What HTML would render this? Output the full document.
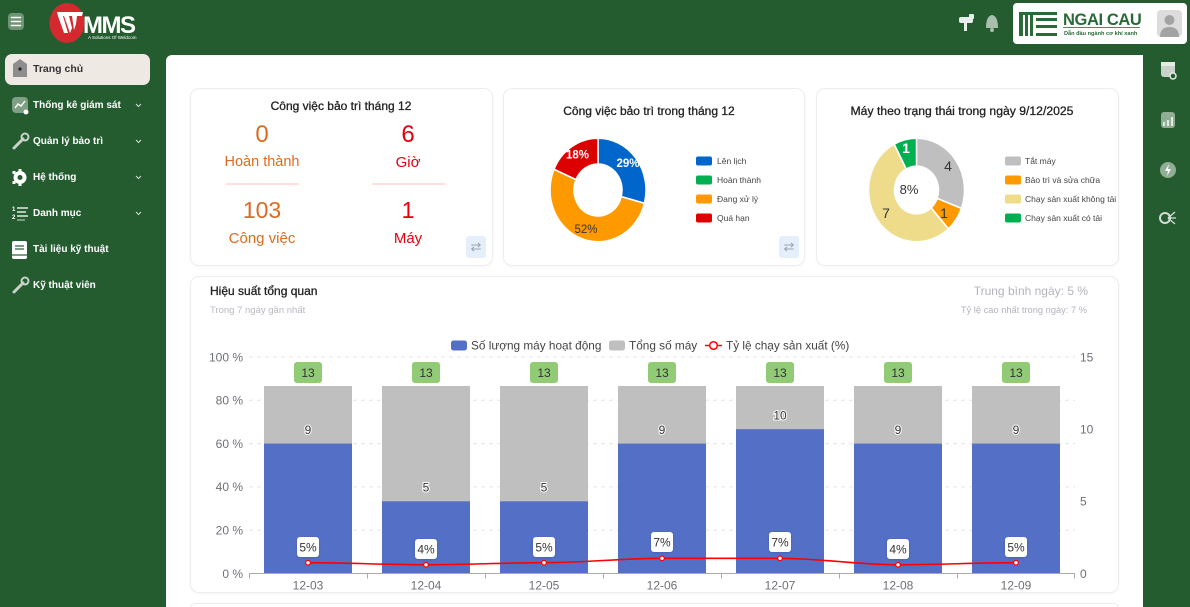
<!DOCTYPE html>
<html><head><meta charset="utf-8">
<style>
*{box-sizing:border-box;margin:0;padding:0}
html{width:1190px;height:607px;overflow:hidden}
body{width:1190px;height:607px;overflow:hidden;background:#245c30;font-family:"Liberation Sans",sans-serif;position:relative}
.panel{position:absolute;left:166px;top:55px;width:977px;height:552px;background:#fff;border-top-left-radius:6px}
.card{position:absolute;background:#fff;border:1px solid #ededed;border-radius:9px;box-shadow:0 1px 3px rgba(0,0,0,0.035)}
.t{position:absolute;white-space:nowrap;line-height:1;z-index:3}
.c{text-align:center;width:240px}
.menu{position:absolute;left:33px;color:#fff;font-weight:bold;font-size:10px;line-height:1;white-space:nowrap;z-index:3}
.ttl{color:#222;-webkit-text-stroke:0.3px #222}
.org{color:#dc6b21}
.red{color:#e3000f}
.div{position:absolute;height:2px;background:#fde0e0}
.swap{position:absolute;width:20px;height:22px;background:#e5effb;border-radius:3px;color:#9aa3ad;font-size:13px;text-align:center;line-height:22px}
svg{position:absolute;left:0;top:0}
</style></head>
<body>
<!-- header -->
<svg width="1190" height="607" style="z-index:1">
  <!-- hamburger -->
  <rect x="8" y="13" width="16" height="17" rx="4" fill="#6f9574"/>
  <g stroke="#fff" stroke-width="1.6" stroke-linecap="round">
    <line x1="11.5" y1="17.5" x2="20.5" y2="17.5"/><line x1="11.5" y1="21.5" x2="20.5" y2="21.5"/><line x1="11.5" y1="25.5" x2="20.5" y2="25.5"/>
  </g>
  <!-- logo -->
  <ellipse cx="67" cy="23" rx="17.5" ry="20" fill="#d42a2f"/>
  <g fill="#fff">
    <polygon points="57,12 83,12 82,16 58,16"/>
    <polygon points="58,16 63,16 68,33 64,33"/>
    <polygon points="64,16 69,16 72,28 70,33"/>
    <polygon points="72,16 77,16 76,24 74,30"/>
  </g>
  <text x="83" y="33" fill="#fff" font-size="24" font-weight="bold" letter-spacing="-1.5" font-family="Liberation Sans, sans-serif">MMS</text>
  <text x="88" y="39" fill="#fff" font-size="4.5" font-family="Liberation Sans, sans-serif">A Solutions Of Weldcom</text>
  <!-- header right icons -->
  <g fill="#e8eee9">
    <rect x="959" y="17" width="14" height="6" rx="2"/>
    <rect x="964" y="17" width="3" height="14"/>
    <rect x="969" y="14" width="5" height="5" rx="1"/>
  </g>
  <path d="M986,28 Q986,16 992,15 Q998,16 998,28 Z" fill="#a9bfad"/>
  <circle cx="992" cy="30" r="2" fill="#a9bfad"/>
  <!-- ngai cau box -->
  <rect x="1013" y="3" width="174" height="41" rx="4" fill="#fff"/>
  <g fill="#2a6a38">
    <rect x="1019" y="12" width="4" height="24"/>
    <rect x="1025" y="12" width="3" height="24"/>
    <rect x="1030" y="12" width="3" height="24"/>
    <rect x="1019" y="12" width="38" height="3"/>
    <rect x="1036" y="18" width="21" height="3"/>
    <rect x="1036" y="25" width="21" height="3"/>
    <rect x="1036" y="33" width="21" height="3"/>
  </g>
  <text x="1063" y="25" fill="#2a6a38" font-size="16.5" font-weight="bold" letter-spacing="-0.4" font-family="Liberation Sans, sans-serif">NGAI CAU</text>
  <rect x="1063" y="27" width="77" height="0.8" fill="#2a6a38"/>
  <text x="1064" y="35" fill="#2a6a38" font-size="5.6" font-weight="bold" font-family="Liberation Sans, sans-serif">Dẫn đầu ngành cơ khí xanh</text>
  <rect x="1157" y="10" width="25" height="27" rx="4" fill="#dcdcdc"/>
  <circle cx="1169.5" cy="20" r="5" fill="#a3a3a3"/>
  <path d="M1160,37 Q1160,27 1169.5,27 Q1179,27 1179,37 Z" fill="#a3a3a3"/>
  <!-- sidebar active -->
  <rect x="5" y="54" width="145" height="31" rx="7" fill="#efe9e4"/>
  <path d="M13,64 L20,59 L27,64 L27,77 L13,77 Z" fill="#8d8d8d"/>
  <circle cx="20" cy="69" r="1.6" fill="#222"/>
  <!-- sidebar icons -->
  <rect x="12" y="97" width="16" height="16" rx="4" fill="#7f9f85"/>
  <polyline points="15,108 18,104 21,106 25,101" fill="none" stroke="#fff" stroke-width="1.4"/>
  <circle cx="26" cy="112" r="2.5" fill="#fff"/>
  <g stroke="#c9d2ca" stroke-width="3" stroke-linecap="round">
    <line x1="14" y1="148" x2="23" y2="139"/>
    <line x1="14" y1="292" x2="23" y2="283"/>
  </g>
  <circle cx="25" cy="137" r="3.5" fill="none" stroke="#c9d2ca" stroke-width="2"/>
  <circle cx="25" cy="281" r="3.5" fill="none" stroke="#c9d2ca" stroke-width="2"/>
  <circle cx="20" cy="177.5" r="6.5" fill="#fff"/>
  <circle cx="20" cy="177.5" r="2.5" fill="#245c30"/>
  <g fill="#fff"><rect x="12.5" y="171" width="3" height="3"/><rect x="12.5" y="181" width="3" height="3"/><rect x="18.5" y="169" width="3" height="3"/><rect x="18.5" y="183" width="3" height="3"/></g>
  <text x="12" y="211" fill="#fff" font-size="6" font-weight="bold" font-family="Liberation Sans, sans-serif">1</text>
  <text x="12" y="219" fill="#fff" font-size="6" font-weight="bold" font-family="Liberation Sans, sans-serif">2</text>
  <g stroke="#fff" stroke-width="1.3"><line x1="17" y1="208" x2="28" y2="208"/><line x1="17" y1="212" x2="26" y2="212"/><line x1="17" y1="216" x2="28" y2="216"/><line x1="17" y1="220" x2="25" y2="220" stroke="#a9bfad"/></g>
  <rect x="12" y="241" width="15" height="18" rx="2" fill="#fff"/>
  <g stroke="#245c30" stroke-width="1.2"><line x1="15" y1="246" x2="24" y2="246"/><line x1="15" y1="249" x2="24" y2="249"/><line x1="12" y1="255" x2="27" y2="255"/></g>
  <!-- chevrons -->
  <g fill="none" stroke="#d4dcd5" stroke-width="1">
    <polyline points="136,104 138.5,106.5 141,104"/>
    <polyline points="136,140 138.5,142.5 141,140"/>
    <polyline points="136,176 138.5,178.5 141,176"/>
    <polyline points="136,212 138.5,214.5 141,212"/>
  </g>
  <!-- right strip icons -->
  <rect x="1161" y="63" width="14" height="14" rx="3" fill="#c9d3ca"/>
  <rect x="1161" y="62" width="14" height="4" fill="#e6ebe6"/>
  <circle cx="1173" cy="76" r="3" fill="#245c30" stroke="#e6ebe6" stroke-width="1.5"/>
  <rect x="1161" y="112" width="14" height="16" rx="3" fill="#8fae94"/>
  <g stroke="#fff" stroke-width="1.5"><line x1="1164" y1="126" x2="1164" y2="122"/><line x1="1168" y1="126" x2="1168" y2="120"/><line x1="1172" y1="126" x2="1172" y2="117"/></g>
  <circle cx="1168" cy="170" r="8" fill="#8fae94"/>
  <polygon points="1169,164 1165,171 1168,171 1167,176 1171,169 1168,169" fill="#fff"/>
  <circle cx="1165" cy="218" r="5" fill="none" stroke="#d4dcd5" stroke-width="2"/>
  <g stroke="#d4dcd5" stroke-width="1.3"><line x1="1168" y1="218" x2="1175" y2="212"/><line x1="1168" y1="218" x2="1176" y2="218"/><line x1="1168" y1="218" x2="1175" y2="224"/></g>
</svg>

<div class="t" style="left:33px;top:64px;font-size:10.5px;font-weight:bold;color:#333">Trang chủ</div>
<div class="menu" style="top:100.5px">Thống kê giám sát</div>
<div class="menu" style="top:136.5px">Quản lý bảo trì</div>
<div class="menu" style="top:172.5px">Hệ thống</div>
<div class="menu" style="top:208.5px">Danh mục</div>
<div class="menu" style="top:244.5px">Tài liệu kỹ thuật</div>
<div class="menu" style="top:281px">Kỹ thuật viên</div>

<div class="panel"></div>

<div class="card" style="left:190px;top:88px;width:303px;height:178px"></div>
<div class="card" style="left:503px;top:88px;width:302px;height:178px"></div>
<div class="card" style="left:816px;top:88px;width:303px;height:178px"></div>
<div class="card" style="left:190px;top:276px;width:929px;height:317px"></div>
<div class="card" style="left:190px;top:603px;width:929px;height:10px"></div>

<!-- card 1 -->
<div class="t c ttl" style="left:221px;top:100px;font-size:12px">Công việc bảo trì tháng 12</div>
<div class="t c org" style="left:142px;top:123px;font-size:24px">0</div>
<div class="t c org" style="left:142px;top:155px;font-size:14.5px">Hoàn thành</div>
<div class="div" style="left:226px;top:183px;width:73px"></div>
<div class="t c org" style="left:142px;top:199px;font-size:23px">103</div>
<div class="t c org" style="left:142px;top:231px;font-size:15px">Công việc</div>
<div class="t c red" style="left:288px;top:123px;font-size:24px">6</div>
<div class="t c red" style="left:288px;top:155px;font-size:15px">Giờ</div>
<div class="div" style="left:372px;top:183px;width:73px"></div>
<div class="t c red" style="left:288px;top:199px;font-size:23px">1</div>
<div class="t c red" style="left:288px;top:231px;font-size:15px">Máy</div>
<div class="swap" style="left:466px;top:236px">⇄</div>

<!-- card 2 -->
<div class="t c ttl" style="left:529px;top:105px;font-size:12px">Công việc bảo trì trong tháng 12</div>
<div class="swap" style="left:779px;top:236px">⇄</div>

<!-- card 3 -->
<div class="t c ttl" style="left:842px;top:105px;font-size:12.2px">Máy theo trạng thái trong ngày 9/12/2025</div>

<!-- big card header -->
<div class="t ttl" style="left:210px;top:285px;font-size:12px">Hiệu suất tổng quan</div>
<div class="t" style="left:210px;top:306px;font-size:9.5px;color:#b8b8c0">Trong 7 ngày gần nhất</div>
<div class="t" style="right:102px;top:285px;font-size:12px;color:#b3b3bd">Trung bình ngày: 5 %</div>
<div class="t" style="right:103px;top:305.5px;font-size:9.3px;color:#b3b3bd">Tỷ lệ cao nhất trong ngày: 7 %</div>

<svg width="1190" height="607" style="z-index:2" font-family="Liberation Sans, sans-serif">
  <defs>
    <filter id="sh" x="-30%" y="-30%" width="160%" height="160%"><feDropShadow dx="0" dy="0.5" stdDeviation="1" flood-color="#000" flood-opacity="0.18"/></filter>
  </defs>
  <!-- donut 1 -->
  <g transform="translate(598,190) scale(1,1.08)" stroke="#fff" stroke-width="1.5">
    <path d="M0,-48 A48,48 0 0 1 46.40,12.30 L23.20,6.15 A24,24 0 0 0 0,-24 Z" fill="#0066cc"/>
    <path d="M46.40,12.30 A48,48 0 1 1 -43.99,-19.21 L-21.99,-9.60 A24,24 0 1 0 23.20,6.15 Z" fill="#ff9900"/>
    <path d="M-43.99,-19.21 A48,48 0 0 1 0,-48 L0,-24 A24,24 0 0 0 -21.99,-9.60 Z" fill="#dd0000"/>
  </g>
  <g font-size="11.5" text-anchor="middle" font-weight="bold">
    <text x="628" y="167" fill="#fff">29%</text>
    <text x="577.5" y="158.5" fill="#fff">18%</text>
    <text x="586" y="233" fill="#333" font-weight="normal">52%</text>
  </g>
  <g font-size="8.5" fill="#444">
    <rect x="696" y="156.5" width="16" height="9" rx="2" fill="#0066cc"/><text x="717" y="164">Lên lịch</text>
    <rect x="696" y="175.5" width="16" height="9" rx="2" fill="#00b050"/><text x="717" y="183">Hoàn thành</text>
    <rect x="696" y="194.5" width="16" height="9" rx="2" fill="#ff9900"/><text x="717" y="202">Đang xử lý</text>
    <rect x="696" y="213.5" width="16" height="9" rx="2" fill="#dd0000"/><text x="717" y="221">Quá hạn</text>
  </g>
  <!-- donut 3 -->
  <g transform="translate(916.5,190) scale(1,1.08)" stroke="#fff" stroke-width="1.5">
    <path d="M0,-48 A48,48 0 0 1 44.88,17.02 L20.57,7.80 A22,22 0 0 0 0,-22 Z" fill="#bfbfbf"/>
    <path d="M44.88,17.02 A48,48 0 0 1 31.83,35.93 L14.59,16.47 A22,22 0 0 0 20.57,7.80 Z" fill="#ff9900"/>
    <path d="M31.83,35.93 A48,48 0 1 1 -22.31,-42.50 L-10.22,-19.48 A22,22 0 1 0 14.59,16.47 Z" fill="#eedc8a"/>
    <path d="M-22.31,-42.50 A48,48 0 0 1 0,-48 L0,-22 A22,22 0 0 0 -10.22,-19.48 Z" fill="#00b050"/>
  </g>
  <g font-size="14" text-anchor="middle" fill="#333">
    <text x="948" y="171">4</text>
    <text x="944" y="218">1</text>
    <text x="886" y="218">7</text>
    <text x="906" y="153" fill="#fff" font-weight="bold">1</text>
    <text x="909" y="194" font-size="13">8%</text>
  </g>
  <g font-size="8.5" fill="#444">
    <rect x="1005" y="156.5" width="16" height="9" rx="2" fill="#bfbfbf"/><text x="1025" y="164">Tắt máy</text>
    <rect x="1005" y="175.5" width="16" height="9" rx="2" fill="#ff9900"/><text x="1025" y="183">Bảo trì và sửa chữa</text>
    <rect x="1005" y="194.5" width="16" height="9" rx="2" fill="#eedc8a"/><text x="1025" y="202">Chạy sản xuất không tải</text>
    <rect x="1005" y="213.5" width="16" height="9" rx="2" fill="#00b050"/><text x="1025" y="221">Chạy sản xuất có tải</text>
  </g>

  <!-- bar chart legend -->
  <g font-size="11.8" fill="#444">
    <rect x="451" y="340.5" width="16" height="10" rx="2.5" fill="#5470c6"/><text x="471" y="349.5">Số lượng máy hoạt động</text>
    <rect x="609" y="340.5" width="16" height="10" rx="2.5" fill="#bfbfbf"/><text x="629" y="349.5">Tổng số máy</text>
    <line x1="705" y1="345.5" x2="722" y2="345.5" stroke="#ff0000" stroke-width="1.5"/>
    <circle cx="713.5" cy="345.5" r="3.8" fill="#fff" stroke="#ff0000" stroke-width="1.5"/>
    <text x="726" y="349.5">Tỷ lệ chạy sản xuất (%)</text>
  </g>
  <!-- grid -->
  <g stroke="#e6e6e6" stroke-width="1" stroke-dasharray="4 4">
    <line x1="249" y1="357" x2="1075" y2="357"/>
    <line x1="249" y1="400.3" x2="1075" y2="400.3"/>
    <line x1="249" y1="443.6" x2="1075" y2="443.6"/>
    <line x1="249" y1="486.9" x2="1075" y2="486.9"/>
    <line x1="249" y1="530.2" x2="1075" y2="530.2"/>
  </g>
  <!-- axis labels -->
  <g font-size="12" fill="#6e7079" text-anchor="end">
    <text x="243" y="361.3">100 %</text>
    <text x="243" y="404.6">80 %</text>
    <text x="243" y="447.9">60 %</text>
    <text x="243" y="491.2">40 %</text>
    <text x="243" y="534.5">20 %</text>
    <text x="243" y="577.8">0 %</text>
  </g>
  <g font-size="12" fill="#6e7079">
    <text x="1080" y="361.3">15</text>
    <text x="1080" y="433.5">10</text>
    <text x="1080" y="505.6">5</text>
    <text x="1080" y="577.8">0</text>
  </g>
  <!-- bars -->
  <g fill="#bfbfbf">
    <rect x="264" y="386" width="88" height="187.5"/>
    <rect x="382" y="386" width="88" height="187.5"/>
    <rect x="500" y="386" width="88" height="187.5"/>
    <rect x="618" y="386" width="88" height="187.5"/>
    <rect x="736" y="386" width="88" height="187.5"/>
    <rect x="854" y="386" width="88" height="187.5"/>
    <rect x="972" y="386" width="88" height="187.5"/>
  </g>
  <g fill="#5470c6">
    <rect x="264" y="443.6" width="88" height="129.9"/>
    <rect x="382" y="501.3" width="88" height="72.2"/>
    <rect x="500" y="501.3" width="88" height="72.2"/>
    <rect x="618" y="443.6" width="88" height="129.9"/>
    <rect x="736" y="429.2" width="88" height="144.3"/>
    <rect x="854" y="443.6" width="88" height="129.9"/>
    <rect x="972" y="443.6" width="88" height="129.9"/>
  </g>
  <g font-size="12" fill="#333" text-anchor="middle" stroke="#fff" stroke-width="2" paint-order="stroke">
    <text x="308" y="434">9</text>
    <text x="426" y="491.5">5</text>
    <text x="544" y="491.5">5</text>
    <text x="662" y="434">9</text>
    <text x="780" y="419.5">10</text>
    <text x="898" y="434">9</text>
    <text x="1016" y="434">9</text>
  </g>
  <!-- 13 badges -->
  <g fill="#91cc75">
    <rect x="294" y="362" width="28" height="21" rx="3"/>
    <rect x="412" y="362" width="28" height="21" rx="3"/>
    <rect x="530" y="362" width="28" height="21" rx="3"/>
    <rect x="648" y="362" width="28" height="21" rx="3"/>
    <rect x="766" y="362" width="28" height="21" rx="3"/>
    <rect x="884" y="362" width="28" height="21" rx="3"/>
    <rect x="1002" y="362" width="28" height="21" rx="3"/>
  </g>
  <g font-size="12" fill="#333" text-anchor="middle">
    <text x="308" y="376.8">13</text><text x="426" y="376.8">13</text><text x="544" y="376.8">13</text><text x="662" y="376.8">13</text><text x="780" y="376.8">13</text><text x="898" y="376.8">13</text><text x="1016" y="376.8">13</text>
  </g>
  <!-- axis -->
  <line x1="249" y1="573.5" x2="1075" y2="573.5" stroke="#aaa" stroke-width="1"/>
  <g stroke="#aaa" stroke-width="1">
    <line x1="249.5" y1="573.5" x2="249.5" y2="578.5"/><line x1="367.5" y1="573.5" x2="367.5" y2="578.5"/><line x1="485.5" y1="573.5" x2="485.5" y2="578.5"/><line x1="603.5" y1="573.5" x2="603.5" y2="578.5"/><line x1="721.5" y1="573.5" x2="721.5" y2="578.5"/><line x1="839.5" y1="573.5" x2="839.5" y2="578.5"/><line x1="957.5" y1="573.5" x2="957.5" y2="578.5"/><line x1="1074.5" y1="573.5" x2="1074.5" y2="578.5"/>
  </g>
  <g font-size="12" fill="#6e7079" text-anchor="middle">
    <text x="308" y="589.3">12-03</text><text x="426" y="589.3">12-04</text><text x="544" y="589.3">12-05</text><text x="662" y="589.3">12-06</text><text x="780" y="589.3">12-07</text><text x="898" y="589.3">12-08</text><text x="1016" y="589.3">12-09</text>
  </g>
  <!-- line -->
  <path d="M308,562.7 C347,562.7 387,564.8 426,564.8 C465,564.8 505,562.7 544,562.7 C583,562.7 623,558.3 662,558.3 C701,558.3 741,558.3 780,558.3 C819,558.3 859,564.8 898,564.8 C937,564.8 977,562.7 1016,562.7" fill="none" stroke="#ff0000" stroke-width="1.6"/>
  <g fill="#fff" stroke="#ff0000" stroke-width="1.2">
    <circle cx="308" cy="562.7" r="2.3"/><circle cx="426" cy="564.8" r="2.3"/><circle cx="544" cy="562.7" r="2.3"/><circle cx="662" cy="558.3" r="2.3"/><circle cx="780" cy="558.3" r="2.3"/><circle cx="898" cy="564.8" r="2.3"/><circle cx="1016" cy="562.7" r="2.3"/>
  </g>
  <g fill="#fff" filter="url(#sh)">
    <rect x="297" y="537" width="22" height="20" rx="3"/>
    <rect x="415" y="539" width="22" height="20" rx="3"/>
    <rect x="533" y="537" width="22" height="20" rx="3"/>
    <rect x="651" y="532" width="22" height="20" rx="3"/>
    <rect x="769" y="532" width="22" height="20" rx="3"/>
    <rect x="887" y="539" width="22" height="20" rx="3"/>
    <rect x="1005" y="537" width="22" height="20" rx="3"/>
  </g>
  <g font-size="12" fill="#333" text-anchor="middle">
    <text x="308" y="551.3">5%</text><text x="426" y="553.3">4%</text><text x="544" y="551.3">5%</text><text x="662" y="546.3">7%</text><text x="780" y="546.3">7%</text><text x="898" y="553.3">4%</text><text x="1016" y="551.3">5%</text>
  </g>
</svg>
</body></html>
